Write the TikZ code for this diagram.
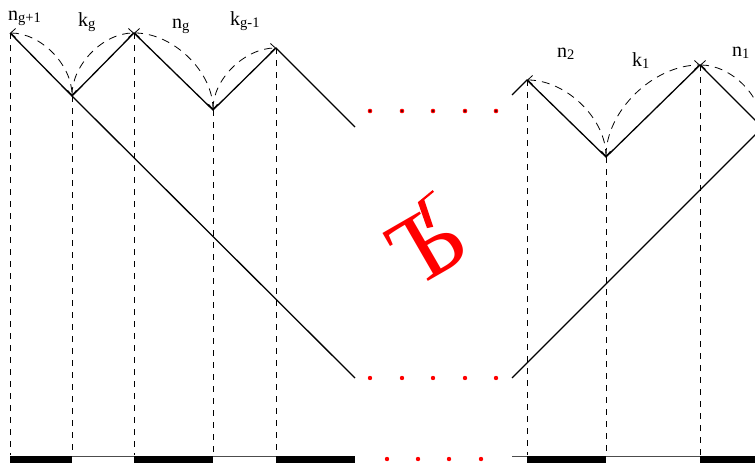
\documentclass[tikz,border=0pt]{standalone}
\usepackage{fontspec}
\setmainfont{Liberation Serif}
\usetikzlibrary{arrows.meta}
\newcommand{\lbl}[2]{#1\raisebox{-2pt}{\fontsize{14.5}{14.5}\selectfont #2}}
\tikzset{
  zig/.style={line width=1.3pt, line join=miter},
  vdash/.style={line width=0.8pt, dash pattern=on 6pt off 6pt},
  arcd/.style={line width=0.8pt, dash pattern=on 8pt off 6pt, {Straight Barb[length=5pt,width=9pt]}-{Straight Barb[length=5pt,width=9pt]}},
  lab/.style={anchor=base west, inner sep=0pt, font=\fontsize{20}{20}\selectfont},
  thickbar/.style={fill=black},
  thinbar/.style={line width=0.7pt, black!70},
  rdot/.style={fill=red},
}
\begin{document}
\begin{tikzpicture}[x=1pt,y=-1pt]
\useasboundingbox (0,0) rectangle (755,463);
\clip (0,0) rectangle (755,463);
% vertices
\coordinate (a0) at (10,33);
\coordinate (a1) at (72,96);
\coordinate (a2) at (134,33);
\coordinate (a3) at (213,110);
\coordinate (a4) at (276,48);
\coordinate (a5) at (355,127);
\coordinate (L)  at (355,378);
\coordinate (b0) at (512,95);
\coordinate (b1) at (527,80);
\coordinate (b2) at (606,157);
\coordinate (b3) at (700,65);
\coordinate (b4) at (762.5,127.5);
\coordinate (R)  at (512,378);
\coordinate (base) at (0,455);
\coordinate (bar) at (0,456.5);
% vertical dashed lines
\foreach \p in {a0,a1,a2,a3,a4,b1,b2,b3}
  \draw[vdash] (\p) -- (\p |- base);
% bottom bars
\draw[thinbar] (a0 |- bar) -- (a5 |- bar);
\draw[thinbar] (b0 |- bar) -- (b4 |- bar);
\fill[thickbar] (10,456) rectangle (72,463);
\fill[thickbar] (134,456) rectangle (213,463);
\fill[thickbar] (276,456) rectangle (355,463);
\fill[thickbar] (527,456) rectangle (606,463);
\fill[thickbar] (700,456) rectangle (760,463);
% zigzags
\draw[zig] (a0) -- (a1) -- (a2) -- (a3) -- (a4) -- (a5);
\draw[zig] (a1) -- (L);
\draw[zig] (b0) -- (b1) -- (b2) -- (b3) -- (b4) -- (R);
% dashed arcs
\draw[arcd] (a0) to[out=0,in=90,looseness=0.9] (a1);
\draw[arcd] (a1) to[out=90,in=180,looseness=0.9] (a2);
\draw[arcd] (a2) to[out=0,in=90,looseness=0.9] (a3);
\draw[arcd] (a3) to[out=90,in=180,looseness=0.9] (a4);
\draw[arcd] (b1) to[out=0,in=90,looseness=0.9] (b2);
\draw[arcd] (b2) to[out=90,in=180,looseness=0.9] (b3);
\draw[arcd] (b3) to[out=0,in=90,looseness=0.9] (b4);
% labels
\node[lab] (l1) at (8,20) {\lbl{n}{g+1}};
\node[lab] (l2) at (78,26) {\lbl{k}{g}};
\node[lab] (l3) at (172,28) {\lbl{n}{g}};
\node[lab] (l4) at (230,25) {\lbl{k}{g-1}};
\node[lab] (l5) at (557,57) {\lbl{n}{2}};
\node[lab] (l6) at (632,66) {\lbl{k}{1}};
\node[lab] (l7) at (732,56) {\lbl{n}{1}};
% red dots
\foreach \x [count=\i] in {370,402,433,465,496}{
  \fill[red] (\x,111) circle (2.3);
  \fill[black!80!red] (\x,111) circle (1.1);
  \fill[rdot] (\x,378) circle (2.2);
}
\foreach \x in {387,418,449,481}
  \fill[rdot] (\x,459) circle (2.2);
% symbol
\begin{scope}[shift={(405,220)}, rotate=30, transform shape]
  \node[red, anchor=base, inner sep=0pt, font=\fontsize{98}{98}\selectfont] (sym) at (6,65) {Ъ};
  \draw[red, line width=2.2pt] (21,-8) -- (39,-11);
  \fill[red] (20,-9) -- (27,-9) -- (21,20) -- (15,18) -- cycle;
\end{scope}
\end{tikzpicture}
\end{document}
